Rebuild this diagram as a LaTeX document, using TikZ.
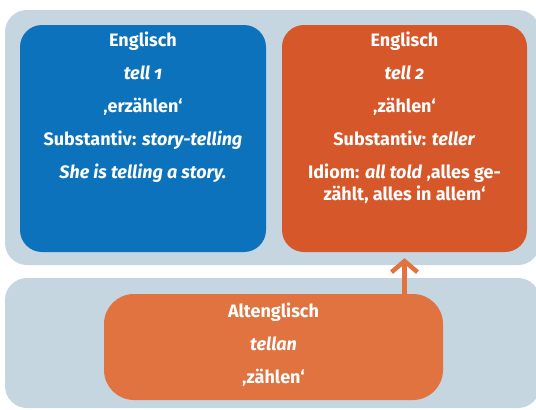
\documentclass[tikz,border=0pt]{standalone}
\usepackage{fontspec}
\setmainfont{Fira Sans}[Numbers=OldStyle]
\usetikzlibrary{positioning,arrows.meta}
\definecolor{panelgray}{HTML}{C5D6E1}
\definecolor{engblue}{HTML}{0B72BB}
\definecolor{engorange}{HTML}{D6572A}
\definecolor{oldorange}{HTML}{E07340}
\tikzset{
  wordbox/.style={rounded corners=22pt, inner sep=0pt, minimum height=227pt},
  boxtext/.style={text=white, font=\fontsize{18}{21.5}\selectfont\bfseries, align=center, inner sep=0pt},
  derives/.style={draw=oldorange, line width=4.5pt, -{Straight Barb[length=11pt,width=26pt]}},
}
\begin{document}
\begin{tikzpicture}[x=1pt,y=-1pt]
\useasboundingbox (0,0) rectangle (536,410);
\clip (0,0) rectangle (536,410);
% Background panels
\fill[panelgray,rounded corners=22pt] (5,10) rectangle (540,265);
\fill[panelgray,rounded corners=22pt] (5,278) rectangle (540,408);

% Word boxes
\node[wordbox, fill=engblue, minimum width=246pt] (eng1) at (143,138.5) {};
\node[wordbox, fill=engorange, minimum width=245pt] (eng2) at (404.5,138.5) {};
\node[wordbox, fill=oldorange, minimum width=339pt, minimum height=106pt, rounded corners=30pt] (old) at (273.5,347) {};

% Box texts
\node[boxtext, below=7pt of eng1.north] (eng1text) {Englisch\\[11.5pt]
  \textit{tell 1}\\[11.5pt]
  ‚erzählen‘\\[11.5pt]
  Substantiv: \textit{story-telling}\\[11.5pt]
  \textit{She is telling a story.}};
\node[boxtext, below=7pt of eng2.north] (eng2text) {Englisch\\[11.5pt]
  \textit{tell 2}\\[11.5pt]
  ‚zählen‘\\[11.5pt]
  Substantiv: \textit{teller}\\[11.5pt]
  Idiom: \textit{all told} ‚alles ge-\\
  zählt, alles in allem‘};
\node[boxtext, below=9pt of old.north] (oldtext) {Altenglisch\\[11.5pt]
  \textit{tellan}\\[11.5pt]
  ‚zählen‘};

% Derivation
\draw[derives] (old.north -| eng2.south) -- ([yshift=-6pt]eng2.south);
\end{tikzpicture}
\end{document}
